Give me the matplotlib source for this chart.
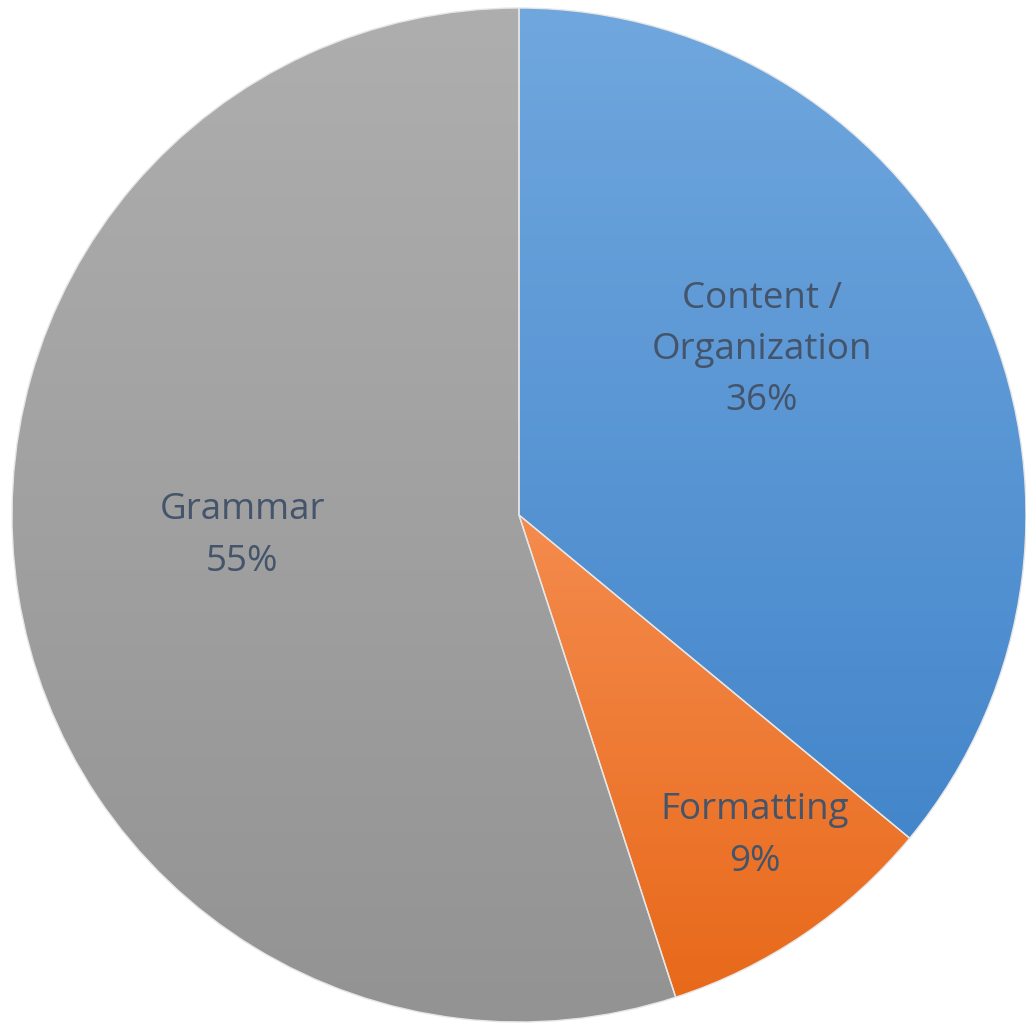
import matplotlib.pyplot as plt
import numpy as np
from matplotlib.colors import LinearSegmentedColormap

labels = ["Content /\nOrganization", "Formatting", "Grammar"]
values = [36, 9, 55]
top_colors = ["#70a7de", "#f48b4d", "#aeaeae"]
bottom_colors = ["#4486cb", "#e8691a", "#939393"]
label_pos = [(762, 350), (755, 836), (242, 536)]  # pixel positions (from top)

W, H = 1026, 1024
cx, cy, r = 519, 1024 - 515, 507

fig = plt.figure(figsize=(W / 100, H / 100), dpi=100)
ax = fig.add_axes([0, 0, 1, 1])

wedges, _ = ax.pie(values, startangle=90, counterclock=False, radius=r,
                   center=(cx, cy), frame=True,
                   wedgeprops=dict(edgecolor="#e6e6e6", linewidth=1.0))
ax.set_aspect("auto")
ax.axis("off")

grad = np.linspace(1, 0, 256).reshape(-1, 1)
for w, c1, c2 in zip(wedges, top_colors, bottom_colors):
    w.set_facecolor("none")
    ext = w.get_path().get_extents()
    cmap = LinearSegmentedColormap.from_list("g", [c2, c1])
    im = ax.imshow(grad, cmap=cmap, extent=[ext.x0, ext.x1, ext.y0, ext.y1],
                   aspect="auto", origin="upper", zorder=0.5)
    im.set_clip_path(w)

ax.set_xlim(0, W)
ax.set_ylim(0, H)

for lab, v, (x, y) in zip(labels, values, label_pos):
    ax.text(x, H - y, f"{lab}\n{v}%", ha="center", va="center",
            fontsize=26.5, color="#44546a", family="Open Sans", linespacing=1.56)

fig.savefig("out.png", dpi=100)
